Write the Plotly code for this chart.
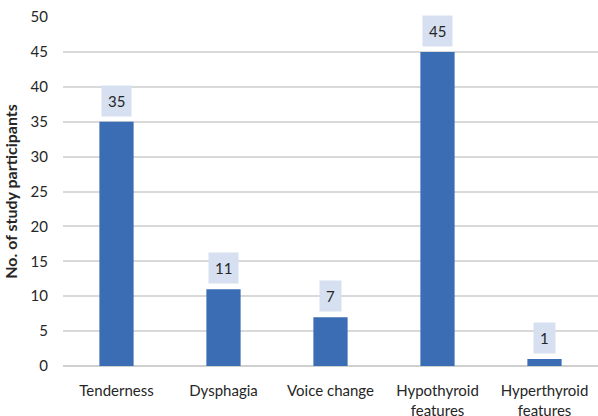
import plotly.graph_objects as go

categories = ["Tenderness", "Dysphagia", "Voice change", "Hypothyroid<br>features", "Hyperthyroid<br>features"]
participants = [35, 11, 7, 45, 1]
y_ticks = [0, 5, 10, 15, 20, 25, 30, 35, 40, 45, 50]

FONT = "Lato, Open Sans, sans-serif"
BAR = "#3b6db5"

fig = go.Figure(
    go.Bar(
        x=categories,
        y=participants,
        marker=dict(color=BAR, line=dict(width=0)),
        width=0.32,
        hoverinfo="skip",
    )
)

# value callouts above each bar
for cat, val in zip(categories, participants):
    fig.add_annotation(
        x=cat, y=val, xref="x", yref="y",
        text=str(val), showarrow=False,
        yanchor="bottom", yshift=5,
        bgcolor="#d6e0f1", borderpad=6,
        font=dict(family=FONT, size=15, color="#262626"),
    )

fig.update_layout(
    width=598, height=416,
    margin=dict(l=63, r=0, t=17, b=50),
    paper_bgcolor="white", plot_bgcolor="white",
    showlegend=False,
    font=dict(family=FONT, size=15, color="#262626"),
)
fig.update_xaxes(
    automargin=False,
    showgrid=False, showline=False, zeroline=False,
    ticks="", ticklabelstandoff=14,
    tickfont=dict(family=FONT, size=15, color="#262626"),
)
fig.update_yaxes(
    automargin=False,
    range=[0, 50], tickvals=y_ticks,
    showgrid=True, gridcolor="#d9d9d9", gridwidth=1.5,
    zeroline=True, zerolinecolor="#d0d0d0", zerolinewidth=1.5,
    showline=False, ticks="", ticklabelstandoff=14,
    tickfont=dict(family=FONT, size=15, color="#262626"),
    title=dict(text="<b>No. of study participants</b>", standoff=8,
               font=dict(family=FONT, size=16, color="#262626")),
)

fig.write_html("out.html")
